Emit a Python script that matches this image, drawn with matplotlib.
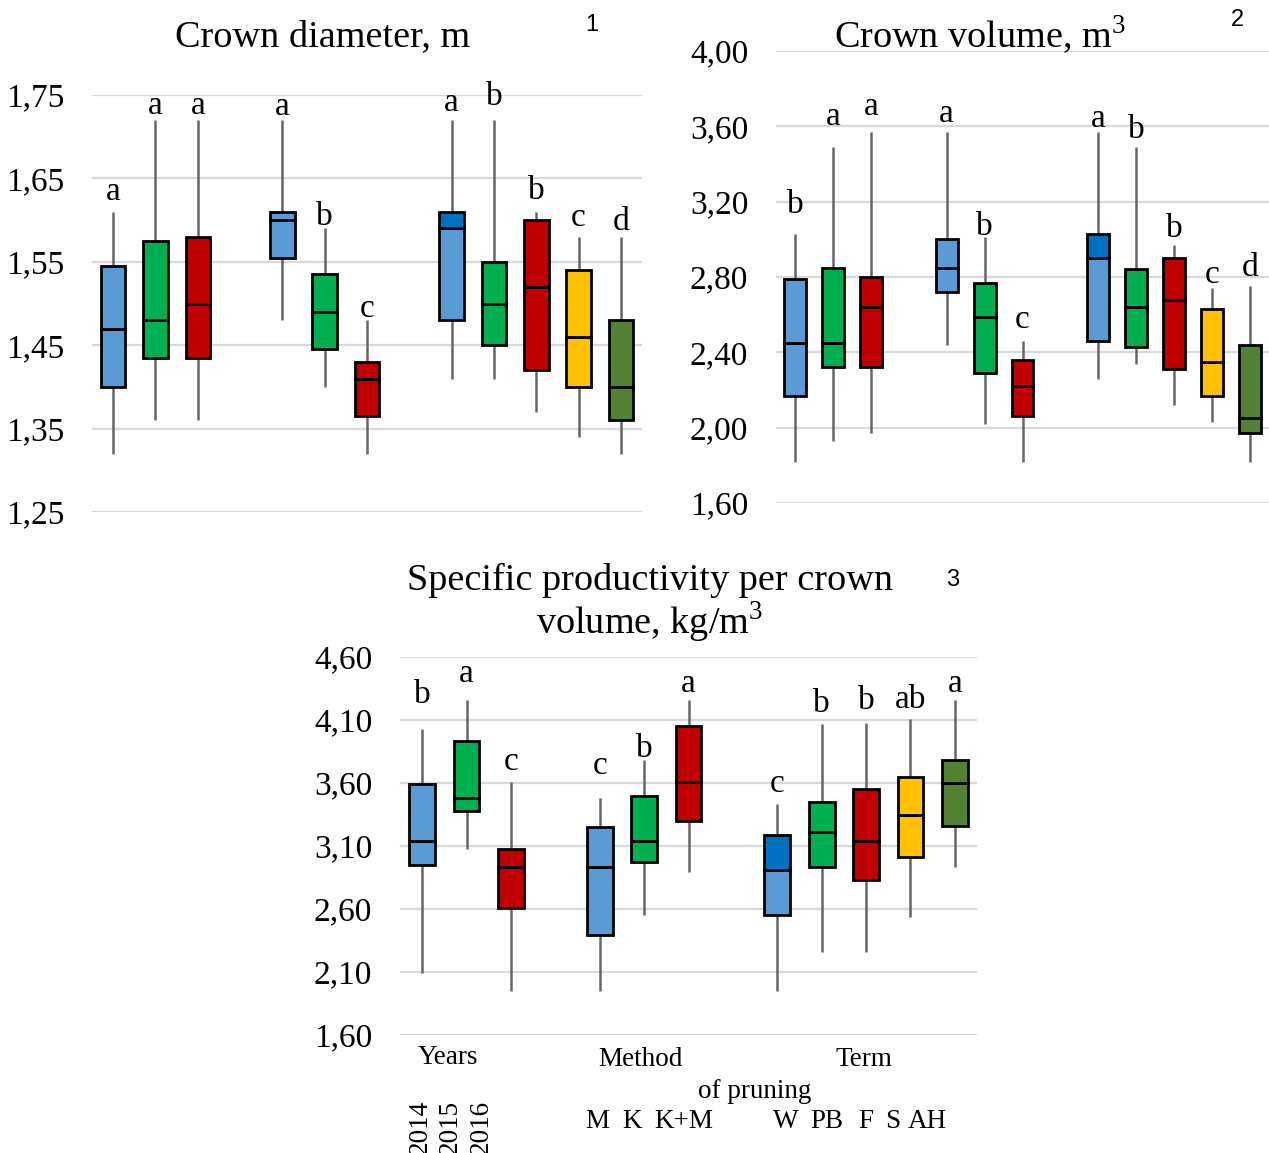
import numpy as np
import matplotlib
matplotlib.use("Agg")
from matplotlib import pyplot as plt

plt.rcParams["font.family"] = ["Liberation Serif", "DejaVu Serif"]
plt.rcParams["mathtext.fontset"] = "custom"
plt.rcParams["mathtext.rm"] = "Liberation Serif"

W, H = 1269, 1153

groups = ["2014", "2015", "2016", "M", "K", "K+M", "W", "PB", "F", "S", "AH"]

# crown diameter, m
diam_whislo = [1.32, 1.36, 1.36, 1.48, 1.40, 1.32, 1.41, 1.41, 1.37, 1.34, 1.32]
diam_q1 = [1.40, 1.435, 1.435, 1.555, 1.445, 1.365, 1.48, 1.45, 1.42, 1.40, 1.36]
diam_med = [1.47, 1.48, 1.50, 1.60, 1.49, 1.41, 1.59, 1.50, 1.52, 1.46, 1.40]
diam_q3 = [1.545, 1.575, 1.58, 1.61, 1.535, 1.43, 1.61, 1.55, 1.60, 1.54, 1.48]
diam_whishi = [1.61, 1.72, 1.72, 1.72, 1.59, 1.48, 1.72, 1.72, 1.61, 1.58, 1.58]
diam_letters = ["a", "a", "a", "a", "b", "c", "a", "b", "b", "c", "d"]
diam_letter_y = [1.624, 1.727, 1.727, 1.726, 1.594, 1.484, 1.731, 1.738, 1.625, 1.593, 1.588]

# crown volume, m3
vol_whislo = [1.82, 1.93, 1.97, 2.44, 2.02, 1.82, 2.26, 2.34, 2.12, 2.03, 1.82]
vol_q1 = [2.17, 2.32, 2.32, 2.72, 2.29, 2.06, 2.46, 2.43, 2.31, 2.17, 1.97]
vol_med = [2.45, 2.45, 2.64, 2.85, 2.59, 2.22, 2.90, 2.64, 2.68, 2.35, 2.05]
vol_q3 = [2.79, 2.85, 2.80, 3.00, 2.77, 2.36, 3.03, 2.84, 2.90, 2.63, 2.44]
vol_whishi = [3.03, 3.49, 3.57, 3.57, 3.01, 2.46, 3.57, 3.49, 2.97, 2.74, 2.75]
vol_letters = ["b", "a", "a", "a", "b", "c", "a", "b", "b", "c", "d"]
vol_letter_y = [3.141, 3.607, 3.660, 3.625, 3.024, 2.529, 3.598, 3.537, 3.015, 2.768, 2.803]

# specific productivity, kg/m3
prod_whislo = [2.09, 3.08, 1.95, 1.95, 2.55, 2.89, 1.95, 2.26, 2.26, 2.54, 2.93]
prod_q1 = [2.95, 3.38, 2.61, 2.39, 2.97, 3.30, 2.55, 2.93, 2.83, 3.01, 3.26]
prod_med = [3.14, 3.48, 2.93, 2.93, 3.14, 3.61, 2.91, 3.21, 3.14, 3.35, 3.60]
prod_q3 = [3.59, 3.93, 3.08, 3.25, 3.50, 4.05, 3.19, 3.45, 3.55, 3.65, 3.78]
prod_whishi = [4.03, 4.26, 3.61, 3.48, 3.78, 4.26, 3.43, 4.07, 4.08, 4.11, 4.26]
prod_letters = ["b", "a", "c", "c", "b", "a", "c", "b", "b", "ab", "a"]
prod_letter_y = [4.235, 4.398, 3.70, 3.674, 3.81, 4.319, 3.525, 4.16, 4.187, 4.195, 4.319]

blue, green, red = "#5B9BD5", "#00B050", "#C00000"
yellow, dgreen, dblue = "#FFC000", "#548235", "#0070C0"
low_colors = [blue, green, red, blue, green, red, blue, green, red, yellow, dgreen]
up_colors = [blue, green, red, blue, green, red, dblue, green, red, yellow, dgreen]

# category slots, with an empty slot between the groups
pos = np.array([0, 1, 2, 4, 5, 6, 8, 9, 10, 11, 12])


def rect(l, t, r, b):
    return [l / W, 1 - b / H, (r - l) / W, (b - t) / H]


def boxpanel(ax, lo, q1, med, q3, hi, letters, letter_y, ticks):
    lo, q1, med, q3, hi = map(np.array, (lo, q1, med, q3, hi))
    ax.vlines(pos, lo, q1, color="#666666", lw=1.8, zorder=2)
    ax.vlines(pos, q3, hi, color="#666666", lw=1.8, zorder=2)
    ax.bar(pos, med - q1, bottom=q1, width=0.58, color=low_colors,
           edgecolor="black", lw=2.0, zorder=3)
    ax.bar(pos, q3 - med, bottom=med, width=0.58, color=up_colors,
           edgecolor="black", lw=2.0, zorder=3)
    for x, y, s in zip(pos, letter_y, letters):
        ax.text(x, y, s, ha="center", va="baseline", fontsize=24)
    ax.set_xlim(-0.5, 12.5)
    ax.set_ylim(ticks[0], ticks[-1])
    ax.set_yticks(ticks)
    ax.set_yticklabels([f"{t:.2f}".replace(".", ",") for t in ticks], fontsize=24)
    ax.tick_params(axis="y", length=0, pad=20)
    ax.set_xticks([])
    ax.grid(axis="y", color="#D9D9D9", lw=1.6, zorder=0)
    ax.set_axisbelow(True)
    for s in ax.spines.values():
        s.set_visible(False)


fig = plt.figure(figsize=(W / 100, H / 100), dpi=100)

ax1 = fig.add_axes(rect(92, 95, 642, 512))
boxpanel(ax1, diam_whislo, diam_q1, diam_med, diam_q3, diam_whishi,
         diam_letters, diam_letter_y, [1.25, 1.35, 1.45, 1.55, 1.65, 1.75])

ax2 = fig.add_axes(rect(776, 51, 1269, 503))
boxpanel(ax2, vol_whislo, vol_q1, vol_med, vol_q3, vol_whishi,
         vol_letters, vol_letter_y, [1.60, 2.00, 2.40, 2.80, 3.20, 3.60, 4.00])

ax3 = fig.add_axes(rect(400, 657, 977, 1035))
boxpanel(ax3, prod_whislo, prod_q1, prod_med, prod_q3, prod_whishi,
         prod_letters, prod_letter_y, [1.60, 2.10, 2.60, 3.10, 3.60, 4.10, 4.60])


def ftext(x, y, s, **kw):
    fig.text(x / W, 1 - y / H, s, ha="center", va="center", **kw)


ftext(323, 37, "Crown diameter, m", fontsize=27.5)
ftext(980, 35, "Crown volume, m$^3$", fontsize=27.5)
ftext(650, 580, "Specific productivity per crown", fontsize=27.5)
ftext(650, 622, "volume, kg/m$^3$", fontsize=27.5)

for x, y, s in [(592, 25, "1"), (1237, 20, "2"), (953, 580, "3")]:
    ftext(x, y, s, fontsize=17, family="Liberation Sans")

ftext(448, 1058, "Years", fontsize=19.5)
ftext(640, 1060, "Method", fontsize=19.5)
ftext(864, 1060, "Term", fontsize=19.5)
ftext(755, 1092, "of pruning", fontsize=19.5)

for x, s in [(420, "2014"), (450, "2015"), (481, "2016")]:
    fig.text(x / W, 1 - 1100 / H, s, rotation=90, ha="center", va="top", fontsize=19.5)

for x, s in [(597, "M"), (632, "K"), (684, "K+M"), (786, "W"), (827, "PB"),
             (866, "F"), (893, "S"), (927, "AH")]:
    ftext(x, 1122, s, fontsize=19.5)

fig.savefig("out.png", dpi=100)
